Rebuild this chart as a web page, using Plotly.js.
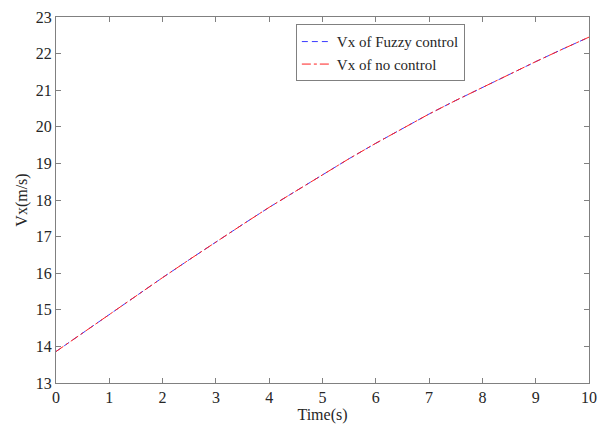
<!DOCTYPE html>
<html>
<head>
<meta charset="utf-8">
<script src="https://cdn.plot.ly/plotly-3.0.1.min.js"></script>
<style>html,body{margin:0;padding:0;background:#fff;}#chart{width:606px;height:432px;}</style>
</head>
<body>
<div id="chart"></div>
<script>
const time = [0,0.5,1,1.5,2,2.5,3,3.5,4,4.5,5,5.5,6,6.5,7,7.5,8,8.5,9,9.5,10];
const vxFuzzy = [13.86,14.37,14.88,15.38,15.88,16.37,16.86,17.33,17.80,18.25,18.70,19.13,19.55,19.96,20.35,20.72,21.08,21.43,21.78,22.12,22.45];
const vxNoControl = [13.86,14.37,14.88,15.38,15.88,16.37,16.86,17.33,17.80,18.25,18.70,19.13,19.55,19.96,20.35,20.72,21.08,21.43,21.78,22.12,22.45];
const xTicks = [0,1,2,3,4,5,6,7,8,9,10];
const yTicks = [13,14,15,16,17,18,19,20,21,22,23];

const traces = [
  {x: time, y: vxFuzzy, mode: 'lines', name: 'Vx of Fuzzy control',
   line: {color: '#3b3bff', dash: '6px,4px', width: 1}},
  {x: time, y: vxNoControl, mode: 'lines', name: 'Vx of no control',
   line: {color: '#ff2020', dash: 'dashdot', width: 1}}
];
const axisCommon = {
  showgrid: false, zeroline: false, showline: true, mirror: 'ticks',
  linecolor: '#808080', linewidth: 1, ticks: 'inside', ticklen: 5,
  tickcolor: '#808080', tickfont: {family: 'Liberation Serif', size: 16, color: '#262626'}
};
const layout = {
  width: 606, height: 432,
  margin: {l: 56, r: 17, t: 17, b: 49},
  paper_bgcolor: '#fff', plot_bgcolor: '#fff',
  font: {family: 'Liberation Serif', color: '#262626'},
  xaxis: Object.assign({}, axisCommon, {range: [0, 10], tickvals: xTicks,
    title: {text: 'Time(s)', font: {family: 'Liberation Serif', size: 16, color: '#262626'}, standoff: 1}}),
  yaxis: Object.assign({}, axisCommon, {range: [13, 23], tickvals: yTicks,
    title: {text: 'Vx(m/s)', font: {family: 'Liberation Serif', size: 16, color: '#262626'}, standoff: 4}}),
  legend: {x: 0.45, y: 0.98, xanchor: 'left', yanchor: 'top',
    bgcolor: '#fff', bordercolor: '#808080', borderwidth: 1,
    font: {family: 'Liberation Serif', size: 15, color: '#262626'},
    tracegroupgap: 0},
  showlegend: true
};
Plotly.newPlot('chart', traces, layout, {displayModeBar: false, staticPlot: true});
</script>
</body>
</html>
